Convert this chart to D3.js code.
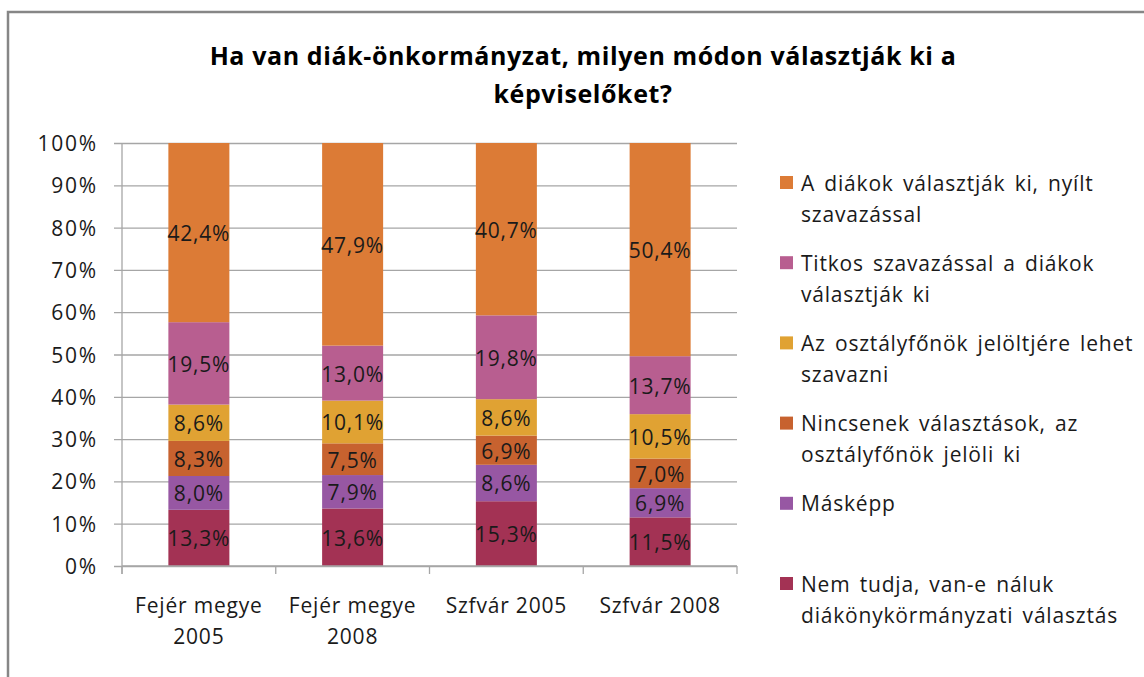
<!DOCTYPE html>
<html>
  <head>
    <meta charset="utf-8">
    <title>Diák-önkormányzat választás</title>
    <script src="https://d3js.org/d3.v7.min.js"></script>
    <style>
      body { margin: 0; background: #fff; }
      text { font-family: "Open Sans", Lato, sans-serif; fill: #1a1a1a; }
      .tickLabel { font-size: 21px; letter-spacing: 0.8px; }
      .yLabel { letter-spacing: 1.8px; }
      .dataLabel { font-size: 21px; letter-spacing: 0.8px; }
      .legendText { font-size: 21px; letter-spacing: 0.8px; word-spacing: 3px; }
      .title { font-size: 25px; font-weight: bold; fill: #000; letter-spacing: 0.6px; }
    </style>
  </head>
  <body>
    <svg id="chart" width="1144" height="677"></svg>
    <script>
      // data
      const categories = [["Fejér megye", "2005"], ["Fejér megye", "2008"], ["Szfvár 2005"], ["Szfvár 2008"]];
      const seriesNames = [
        ["Nem tudja, van-e náluk", "diákönykörmányzati választás"],
        ["Másképp"],
        ["Nincsenek választások, az", "osztályfőnök jelöli ki"],
        ["Az osztályfőnök jelöltjére lehet", "szavazni"],
        ["Titkos szavazással a diákok", "választják ki"],
        ["A diákok választják ki, nyílt", "szavazással"]
      ];
      const seriesColours = ["#a33254", "#9757a3", "#c7622f", "#e0a233", "#b85e90", "#dc7b36"];
      const nemTudja = [13.3, 13.6, 15.3, 11.5];
      const maskepp = [8.0, 7.9, 8.6, 6.9];
      const nincsenek = [8.3, 7.5, 6.9, 7.0];
      const jeloltjere = [8.6, 10.1, 8.6, 10.5];
      const titkos = [19.5, 13.0, 19.8, 13.7];
      const nyilt = [42.4, 47.9, 40.7, 50.4];
      const yTicks = [0, 0.1, 0.2, 0.3, 0.4, 0.5, 0.6, 0.7, 0.8, 0.9, 1];

      const seriesValues = [nemTudja, maskepp, nincsenek, jeloltjere, titkos, nyilt];
      const keys = seriesValues.map(function(d, i) { return "s" + i; });
      const table = categories.map(function(c, j) {
        let row = { idx: j };
        seriesValues.forEach(function(s, i) { row["s" + i] = s[j]; });
        return row;
      });

      const svg = d3.select("#chart");
      const margin = { left: 122, right: 407, top: 143, bottom: 111 };
      const width = 1144, height = 677;

      // outer frame
      svg.append("rect")
        .attr("x", 8).attr("y", 12)
        .attr("width", 1200).attr("height", 800)
        .attr("fill", "none")
        .attr("stroke", "#868686")
        .attr("stroke-width", 2.5);

      // title
      svg.append("text").attr("class", "title")
        .attr("x", 583).attr("y", 65).attr("text-anchor", "middle")
        .text("Ha van diák-önkormányzat, milyen módon választják ki a");
      svg.append("text").attr("class", "title")
        .attr("x", 583).attr("y", 103).attr("text-anchor", "middle")
        .text("képviselőket?");

      const x = d3.scaleBand()
        .domain(d3.range(categories.length))
        .range([margin.left, width - margin.right])
        .paddingInner(0).paddingOuter(0);
      const y = d3.scaleLinear()
        .domain([0, 1])
        .range([height - margin.bottom, margin.top]);

      // gridlines + y labels
      const yAxis = d3.axisLeft(y)
        .tickValues(yTicks)
        .tickFormat(d3.format(".0%"))
        .tickSizeInner(-(width - margin.right - margin.left))
        .tickSizeOuter(0)
        .tickPadding(0);
      const yAxisGroup = svg.append("g")
        .attr("transform", "translate(" + margin.left + ",0)")
        .call(yAxis)
        .attr("font-family", null)
        .attr("font-size", null);
      yAxisGroup.select(".domain").remove();
      yAxisGroup.selectAll(".tick line")
        .attr("x1", -8)
        .attr("stroke", "#a6a6a6")
        .attr("stroke-width", 1.3);
      yAxisGroup.selectAll(".tick text")
        .attr("class", "tickLabel yLabel")
        .attr("x", -24)
        .attr("dy", "0.36em")
        .attr("fill", "#1a1a1a");

      // bars
      const stack = d3.stack().keys(keys).offset(d3.stackOffsetExpand);
      const layers = stack(table);
      const barWidth = 61;
      const groups = svg.append("g").selectAll(".layer")
        .data(layers)
        .enter().append("g")
          .attr("fill", function(d, i) { return seriesColours[i]; });
      groups.selectAll("rect")
        .data(function(d) { return d; })
        .enter().append("rect")
          .attr("x", function(d, j) { return x(j) + x.bandwidth() / 2 - barWidth / 2; })
          .attr("width", barWidth)
          .attr("y", function(d) { return y(d[1]); })
          .attr("height", function(d) { return y(d[0]) - y(d[1]); });
      layers.forEach(function(layer, i) {
        svg.append("g").selectAll("text")
          .data(layer)
          .enter().append("text")
            .attr("class", "dataLabel")
            .attr("text-anchor", "middle")
            .attr("x", function(d, j) { return x(j) + x.bandwidth() / 2; })
            .attr("y", function(d) { return (y(d[0]) + y(d[1])) / 2; })
            .attr("dy", "0.4em")
            .text(function(d, j) { return seriesValues[i][j].toFixed(1).replace(".", ",") + "%"; });
      });

      // x axis
      const axisGroup = svg.append("g").attr("stroke", "#a6a6a6").attr("stroke-width", 1.3);
      axisGroup.append("line")
        .attr("x1", margin.left).attr("x2", width - margin.right)
        .attr("y1", y(0)).attr("y2", y(0));
      axisGroup.append("line")
        .attr("x1", margin.left).attr("x2", margin.left)
        .attr("y1", y(1)).attr("y2", y(0) + 8);
      d3.range(categories.length + 1).forEach(function(j) {
        let xx = j < categories.length ? x(j) : x(j - 1) + x.bandwidth();
        axisGroup.append("line")
          .attr("x1", xx).attr("x2", xx)
          .attr("y1", y(0)).attr("y2", y(0) + 8);
      });
      categories.forEach(function(c, j) {
        c.forEach(function(line, k) {
          svg.append("text")
            .attr("class", "tickLabel")
            .attr("text-anchor", "middle")
            .attr("x", x(j) + x.bandwidth() / 2)
            .attr("y", 613 + k * 31)
            .text(line);
        });
      });

      // legend
      const legendTop = 183;
      const legendStep = 80.2;
      const legendNames = seriesNames.slice().reverse();
      const legendColours = seriesColours.slice().reverse();
      legendNames.forEach(function(lines, i) {
        let yy = legendTop + i * legendStep;
        svg.append("rect")
          .attr("x", 780).attr("y", yy - 7)
          .attr("width", 13).attr("height", 13)
          .attr("fill", legendColours[i]);
        lines.forEach(function(line, k) {
          svg.append("text")
            .attr("class", "legendText")
            .attr("x", 801)
            .attr("y", yy + k * 31)
            .attr("dy", "0.36em")
            .text(line);
        });
      });
    </script>
  </body>
</html>
